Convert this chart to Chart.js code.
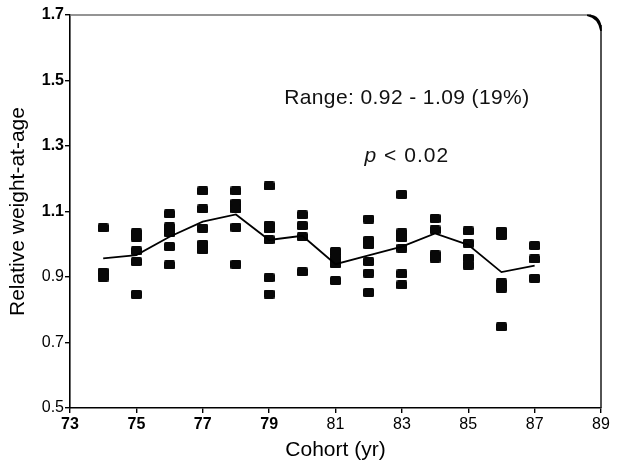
<!DOCTYPE html>
<html>
<head>
<meta charset="utf-8">
<script src="https://cdn.jsdelivr.net/npm/chart.js@4.4.1/dist/chart.umd.min.js"></script>
<style>
    html, body { margin: 0; padding: 0; background: #fff; }
    #wrap { width: 620px; height: 467px; }
</style>
</head>
<body>
<div id="wrap"><canvas id="weight-chart"></canvas></div>
<script>
/// -------------- DATA --------------- ///

const cohorts = [74, 75, 76, 77, 78, 79, 80, 81, 82, 83, 84, 85, 86, 87];

// relative weight-at-age, one list per cohort
const pointValues = [
    [1.05, 0.915, 0.90],
    [1.035, 1.022, 0.98, 0.947, 0.847],
    [1.093, 1.053, 1.035, 0.993, 0.937],
    [1.163, 1.108, 1.049, 1.0, 0.983],
    [1.163, 1.125, 1.108, 1.052, 0.939],
    [1.178, 1.058, 1.047, 1.014, 0.898, 0.848],
    [1.09, 1.057, 1.023, 0.916],
    [0.978, 0.958, 0.94, 0.889],
    [1.077, 1.012, 0.999, 0.947, 0.912, 0.853],
    [1.152, 1.035, 1.02, 0.988, 0.91, 0.876],
    [1.079, 1.044, 0.968, 0.958],
    [1.041, 1.003, 0.958, 0.936],
    [1.04, 1.027, 0.882, 0.866, 0.748],
    [0.996, 0.955, 0.896]
];

const trendValues = [0.957, 0.967, 1.023, 1.069, 1.091, 1.013, 1.026, 0.939, 0.966, 0.993, 1.033, 0.998, 0.915, 0.935];

const xTicks = [73, 75, 77, 79, 81, 83, 85, 87, 89];
const yTicks = [0.5, 0.7, 0.9, 1.1, 1.3, 1.5, 1.7];

const rangeText = "Range: 0.92 - 1.09 (19%)";
const pText = " < 0.02";

/// -------------- CHART --------------- ///

const FONT = "'Liberation Sans', Arial, Helvetica, sans-serif";

function makeSquare() {
    const c = document.createElement("canvas");
    c.width = 11;
    c.height = 9;
    const g = c.getContext("2d");
    g.fillStyle = "#080808";
    g.beginPath();
    g.roundRect(0, 0, 11, 9, 1.5);
    g.fill();
    return c;
}

const scatterPoints = [];
cohorts.forEach((year, i) => {
    pointValues[i].forEach(v => scatterPoints.push({ x: year, y: v }));
});

const trendPoints = cohorts.map((year, i) => ({ x: year, y: trendValues[i] }));

const frameAndText = {
    id: "frameAndText",
    afterDraw(chart) {
        const { ctx, chartArea: a, scales } = chart;
        ctx.save();

        // top + right frame from the scanned original
        ctx.strokeStyle = "#707070";
        ctx.lineWidth = 1.3;
        ctx.beginPath();
        ctx.moveTo(a.left, a.top);
        ctx.lineTo(a.right - 10, a.top);
        ctx.stroke();

        ctx.strokeStyle = "#1a1a1a";
        ctx.lineWidth = 1.5;
        ctx.beginPath();
        ctx.moveTo(a.right, a.top + 10);
        ctx.lineTo(a.right, a.bottom);
        ctx.stroke();

        ctx.fillStyle = "#000";
        ctx.beginPath();
        ctx.moveTo(a.right - 14, a.top - 0.5);
        ctx.quadraticCurveTo(a.right + 1, a.top - 1, a.right + 0.8, a.top + 16);
        ctx.lineTo(a.right - 0.8, a.top + 16);
        ctx.quadraticCurveTo(a.right - 3, a.top + 3, a.right - 14, a.top + 1);
        ctx.closePath();
        ctx.fill();

        // annotations
        const cx = scales.x.getPixelForValue(83.15);
        ctx.fillStyle = "#111";
        ctx.textBaseline = "alphabetic";
        ctx.textAlign = "center";
        ctx.font = "21px " + FONT;
        ctx.letterSpacing = "0.4px";
        ctx.fillText(rangeText, cx, scales.y.getPixelForValue(1.427));

        const pY = scales.y.getPixelForValue(1.25);
        ctx.textAlign = "left";
        ctx.letterSpacing = "1px";
        ctx.font = "italic 21px " + FONT;
        const pw = ctx.measureText("p").width;
        ctx.font = "21px " + FONT;
        const rw = ctx.measureText(pText).width;
        const start = cx - (pw + rw) / 2;
        ctx.font = "italic 21px " + FONT;
        ctx.fillText("p", start, pY);
        ctx.font = "21px " + FONT;
        ctx.fillText(pText, start + pw, pY);

        ctx.restore();
    }
};

new Chart(document.getElementById("weight-chart"), {
    type: "scatter",
    data: {
        datasets: [
            {
                type: "line",
                data: trendPoints,
                borderColor: "#000",
                borderWidth: 1.8,
                pointRadius: 0,
                fill: false,
                tension: 0
            },
            {
                data: scatterPoints,
                pointStyle: makeSquare(),
                backgroundColor: "#000",
                pointRadius: 5
            }
        ]
    },
    options: {
        responsive: true,
        maintainAspectRatio: false,
        animation: false,
        layout: {
            padding: { top: 15, right: 19, left: 0, bottom: 0 }
        },
        plugins: {
            legend: { display: false },
            tooltip: { enabled: false }
        },
        scales: {
            x: {
                type: "linear",
                min: 73,
                max: 89,
                afterBuildTicks: scale => { scale.ticks = xTicks.map(v => ({ value: v })); },
                afterFit: scale => { scale.height = 59; },
                border: { color: "#000", width: 1.6 },
                grid: { drawOnChartArea: false, drawTicks: true, tickLength: 5, color: "#000", lineWidth: 1.4 },
                ticks: {
                    color: "#000",
                    padding: 2,
                    maxRotation: 0,
                    font: ctx => ({ family: FONT, size: 16, weight: ctx.tick && ctx.tick.value <= 79 ? "bold" : "normal" })
                },
                title: {
                    display: true,
                    text: "Cohort (yr)",
                    color: "#000",
                    font: { family: FONT, size: 21 },
                    padding: { top: 0, bottom: 4.4 }
                }
            },
            y: {
                min: 0.5,
                max: 1.7,
                afterBuildTicks: scale => { scale.ticks = yTicks.map(v => ({ value: v })); },
                afterFit: scale => { scale.width = 70; },
                border: { color: "#000", width: 1.6 },
                grid: { drawOnChartArea: false, drawTicks: true, tickLength: 5, color: "#000", lineWidth: 1.4 },
                ticks: {
                    color: "#000",
                    padding: 1,
                    callback: v => v.toFixed(1),
                    font: ctx => ({ family: FONT, size: 16, weight: ctx.tick && ctx.tick.value >= 1.1 ? "bold" : "normal" })
                },
                title: {
                    display: true,
                    text: "Relative weight-at-age",
                    color: "#000",
                    font: { family: FONT, size: 21 },
                    padding: { top: 5.4, bottom: 0 }
                }
            }
        }
    },
    plugins: [frameAndText]
});
</script>
</body>
</html>
